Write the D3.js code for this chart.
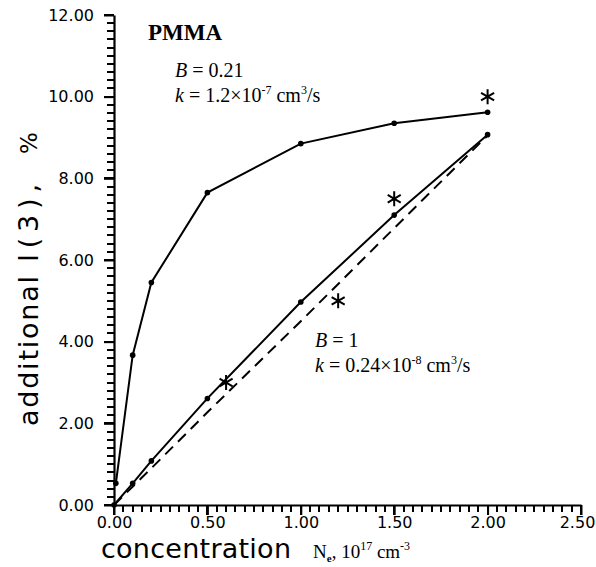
<!DOCTYPE html>
<html>
<head>
<meta charset="utf-8">
<script src="https://cdn.jsdelivr.net/npm/d3@7"></script>
<style>
  body { margin: 0; background: #fff; }
  text { fill: #000; }
</style>
</head>
<body>
<div id="chart"></div>
<script>
// B = 0.21 curve
var fit1X = [0.01, 0.1, 0.2, 0.5, 1.0, 1.5, 2.0];
var fit1Y = [0.53, 3.67, 5.45, 7.65, 8.85, 9.35, 9.62];
// B = 1 curve
var fit2X = [0, 0.1, 0.2, 0.5, 1.0, 1.5, 2.0];
var fit2Y = [0, 0.53, 1.08, 2.61, 4.97, 7.1, 9.07];
// dashed line
var dashX = [0, 0.2, 0.5, 1.0, 1.5, 2.0];
var dashY = [0, 0.9, 2.27, 4.5, 6.78, 9.05];
// experiment (stars)
var expX = [0.6, 1.2, 1.5, 2.0];
var expY = [3.0, 5.0, 7.5, 10.0];

var xMajor = [0, 0.5, 1.0, 1.5, 2.0, 2.5];
var yMajor = [0, 2, 4, 6, 8, 10, 12];

var W = 596, H = 567;
var svg = d3.select("#chart").append("svg")
  .attr("width", W).attr("height", H);

var x = d3.scaleLinear().domain([0, 2.5]).range([114, 581]);
var y = d3.scaleLinear().domain([0, 12]).range([505, 15]);

var fmt = d3.format(".2f");
var x0 = x(0), y0 = y(0);

// minor ticks as small rects
var xMinor = d3.range(0, 51).map(function(i) { return i * 0.05; });
var yMinor = d3.range(0, 61).map(function(i) { return i * 0.2; });
svg.selectAll("rect.xt").data(xMinor).enter().append("rect")
  .attr("class", "xt")
  .attr("x", function(d) { return Math.round(x(d)) - 1; })
  .attr("y", y0)
  .attr("width", 2)
  .attr("height", function(d, i) { return i % 10 === 0 ? 10 : 7; })
  .attr("fill", "#000");
svg.selectAll("rect.yt").data(yMinor).enter().append("rect")
  .attr("class", "yt")
  .attr("y", function(d) { return Math.round(y(d)) - 1; })
  .attr("x", function(d, i) { return x0 - (i % 10 === 0 ? 10 : 7); })
  .attr("height", 2)
  .attr("width", function(d, i) { return i % 10 === 0 ? 10 : 7; })
  .attr("fill", "#000");

// axis lines + labels
var xAxis = svg.append("g")
  .attr("transform", "translate(0," + y0 + ")")
  .call(d3.axisBottom(x).tickValues(xMajor).tickSize(10).tickSizeOuter(0).tickPadding(2).tickFormat(fmt));
var yAxis = svg.append("g")
  .attr("transform", "translate(" + x0 + ",0)")
  .call(d3.axisLeft(y).tickValues(yMajor).tickSize(10).tickSizeOuter(0).tickPadding(10).tickFormat(fmt));

[xAxis, yAxis].forEach(function(g) {
  g.select(".domain").attr("stroke", "#000").attr("stroke-width", 2.2);
  g.selectAll(".tick line").attr("stroke", "#000").attr("stroke-width", 2);
  g.selectAll("text")
    .style("font-family", "DejaVu Sans")
    .style("font-size", "16px")
    .attr("fill", "#000");
});
// keep the last x label inside the window
xAxis.selectAll("text").filter(function(d) { return d === 2.5; }).attr("dx", -4);

// lines
var line = d3.line().x(function(d) { return x(d[0]); }).y(function(d) { return y(d[1]); });
var fit1 = d3.zip(fit1X, fit1Y), fit2 = d3.zip(fit2X, fit2Y), dash = d3.zip(dashX, dashY);

svg.append("path").datum(dash).attr("d", line)
  .attr("fill", "none").attr("stroke", "#000").attr("stroke-width", 2)
  .attr("stroke-dasharray", "11,7");
[fit1, fit2].forEach(function(s) {
  svg.append("path").datum(s).attr("d", line)
    .attr("fill", "none").attr("stroke", "#000").attr("stroke-width", 2);
  svg.selectAll(null).data(s).enter().append("circle")
    .attr("cx", function(d) { return x(d[0]); })
    .attr("cy", function(d) { return y(d[1]); })
    .attr("r", 2.8).attr("fill", "#000");
});

// stars
svg.selectAll(null).data(d3.zip(expX, expY)).enter().append("path")
  .attr("d", d3.symbol(d3.symbolAsterisk, 160))
  .attr("transform", function(d) { return "translate(" + x(d[0]) + "," + y(d[1]) + ")"; })
  .attr("fill", "none").attr("stroke", "#000").attr("stroke-width", 2);

// annotations
var serif = "Liberation Serif";
svg.append("text").attr("x", 148).attr("y", 40)
  .style("font-family", serif).style("font-weight", "bold").style("font-size", "23px")
  .text("PMMA");

function paramText(px, py, bVal, kVal, kExp) {
  var t1 = svg.append("text").attr("x", px).attr("y", py)
    .style("font-family", serif).style("font-size", "20px");
  t1.append("tspan").style("font-style", "italic").text("B");
  t1.append("tspan").text(" = " + bVal);

  var t2 = svg.append("text").attr("x", px).attr("y", py + 25)
    .style("font-family", serif).style("font-size", "20px");
  t2.append("tspan").style("font-style", "italic").text("k");
  t2.append("tspan").text(" = " + kVal + "\u00d710");
  t2.append("tspan").attr("dy", -8).style("font-size", "12px").text(kExp);
  t2.append("tspan").attr("dy", 8).text(" cm");
  t2.append("tspan").attr("dy", -8).style("font-size", "12px").text("3");
  t2.append("tspan").attr("dy", 8).text("/s");
}
paramText(175, 77, "0.21", "1.2", "-7");
paramText(315, 347, "1", "0.24", "-8");

// y label
var yl = svg.append("g").attr("transform", "translate(38,0) rotate(-90)");
yl.append("text").attr("x", -426).attr("y", 0)
  .attr("textLength", 150).attr("lengthAdjust", "spacing")
  .style("font-family", "DejaVu Sans").style("font-size", "27px").text("additional");
yl.append("text").attr("x", -262).attr("y", 0)
  .attr("textLength", 78).attr("lengthAdjust", "spacing")
  .style("font-family", "DejaVu Sans").style("font-size", "27px").text("I(3),");
yl.append("text").attr("x", -154).attr("y", -1)
  .style("font-family", "DejaVu Sans").style("font-size", "23px").text("%");

// x label
svg.append("text").attr("x", 101).attr("y", 558)
  .attr("textLength", 190).attr("lengthAdjust", "spacing")
  .style("font-family", "DejaVu Sans").style("font-size", "27px").text("concentration");
var xl = svg.append("text").attr("x", 313).attr("y", 558)
  .style("font-family", serif).style("font-size", "19px");
xl.append("tspan").text("N");
xl.append("tspan").attr("dy", 4).style("font-size", "11px").style("font-weight", "bold").text("e");
xl.append("tspan").attr("dy", -4).text(", 10");
xl.append("tspan").attr("dy", -8).style("font-size", "12px").text("17");
xl.append("tspan").attr("dy", 8).text(" cm");
xl.append("tspan").attr("dy", -8).style("font-size", "12px").text("-3");
</script>
</body>
</html>
